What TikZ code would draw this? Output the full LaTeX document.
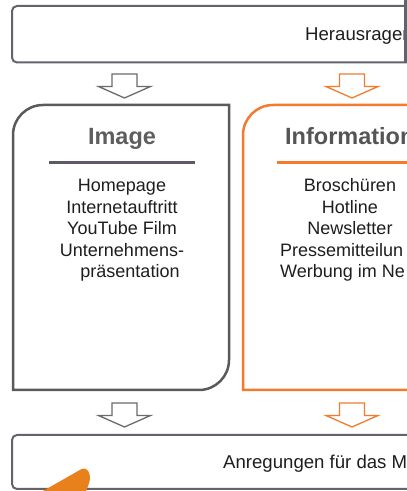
\documentclass[tikz,border=0pt]{standalone}
\usepackage{fontspec}
\setmainfont{Liberation Sans}
\definecolor{boxgray}{HTML}{67616C}
\definecolor{leftgray}{HTML}{5A5A5A}
\definecolor{orbox}{HTML}{F27B2F}
\definecolor{titlegray}{HTML}{5E5E5E}
\definecolor{sepgray}{HTML}{5F5866}
\definecolor{wedge}{HTML}{E8801C}
\definecolor{txt}{HTML}{1E1E1E}
\newcommand\hollowarrow[3]{%
  \draw[#1, line width=1.3pt, line join=miter] (#2,#3) ++(-12.5,0) -- ++(25,0) -- ++(0,-12.5) -- ++(13.5,0) -- ++(-26,-11.5) -- ++(-26,11.5) -- ++(13.5,0) -- cycle;}
\tikzset{
  itemtxt/.style={inner sep=0pt, text=txt, font=\fontsize{18}{21.5}\selectfont},
  titletxt/.style={inner sep=0pt, text=titlegray, font=\fontsize{23.5}{26}\selectfont\bfseries},
  frametxt/.style={inner sep=0pt, text=txt, font=\fontsize{18.6}{21}\selectfont},
}
\begin{document}
\begin{tikzpicture}[x=1pt,y=1pt]
\useasboundingbox (0,0) rectangle (407,491);
\clip (0,0) rectangle (407,491);
\fill[white] (0,0) rectangle (407,491);
% top box
\draw[boxgray, line width=2pt, rounded corners=5pt] (430,485) -- (12,485) -- (12,428.5) -- (430,428.5);
\node[frametxt, anchor=base west] (top) at (305,450.5) {Herausragen};
\draw[boxgray, line width=2.5pt] (405.5,492) -- (405.5,427.5);
% arrows top
\hollowarrow{leftgray!90}{124.5}{417}
\hollowarrow{orbox}{352}{417}
% left box
\draw[leftgray, line width=2.5pt] (13,101) -- (13,356) arc[start angle=180, end angle=90, radius=30] -- (229,386) -- (229,131) arc[start angle=0, end angle=-90, radius=30] -- cycle;
\node[titletxt, anchor=base] (image) at (122,346) {Image};
\draw[sepgray, line width=3pt] (49,328) -- (195,328);
\node[itemtxt, anchor=base] (i1) at (122,299) {Homepage};
\node[itemtxt, anchor=base] (i2) at (122,277.5) {Internetauftritt};
\node[itemtxt, anchor=base] (i3) at (122,256) {YouTube Film};
\node[itemtxt, anchor=base] (i4) at (122,234.5) {Unternehmens-};
\node[itemtxt, anchor=base] (i5) at (130,213) {präsentation};
% orange box
\draw[orbox, line width=2.5pt] (430,101) -- (243,101) -- (243,356) arc[start angle=180, end angle=90, radius=30] -- (430,386);
\node[titletxt, anchor=base west, text=titlegray!90!black] (info) at (285,346) {Information};
\draw[orbox, line width=3pt] (277,328) -- (430,328);
\node[itemtxt, anchor=base] (r1) at (350,299) {Broschüren};
\node[itemtxt, anchor=base] (r2) at (350,277.5) {Hotline};
\node[itemtxt, anchor=base] (r3) at (350,256) {Newsletter};
\node[itemtxt, anchor=base west] (r4) at (280,234.5) {Pressemitteilun};
\node[itemtxt, anchor=base west] (r5) at (280,213) {Werbung im Ne};
% arrows bottom
\hollowarrow{leftgray!90}{124.5}{88}
\hollowarrow{orbox}{352}{88}
% bottom box
\draw[boxgray, line width=2pt, rounded corners=5pt] (430,56) -- (12,56) -- (12,2) -- (430,2);
\node[frametxt, anchor=base west] (bot) at (223,22.5) {Anregungen für das M};
% orange wedge
\fill[wedge, rounded corners=5pt] (36,-4) -- (86,24.5) -- (91,14) -- (85,-4) -- cycle;
\end{tikzpicture}
\end{document}
